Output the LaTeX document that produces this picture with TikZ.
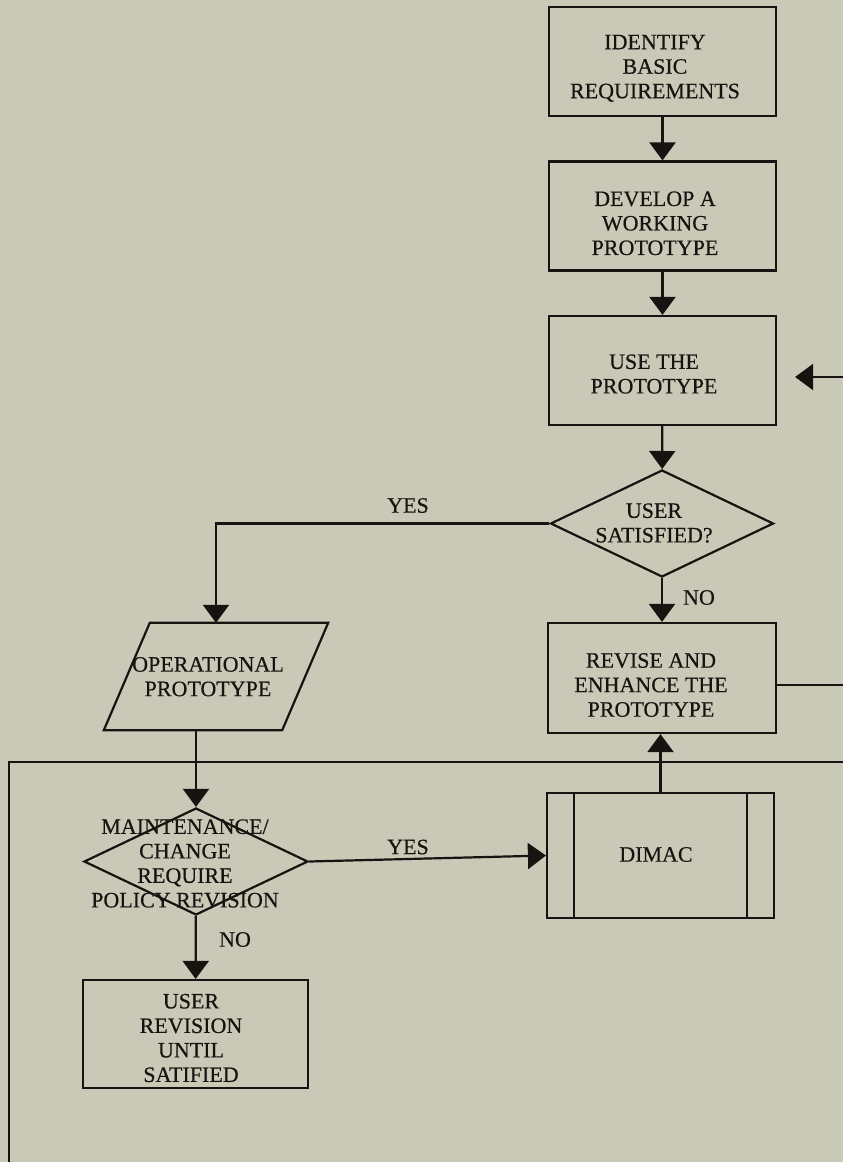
\documentclass[tikz,border=0pt]{standalone}
\usepackage{fontspec}
\setmainfont{Liberation Serif}
\newfontfamily\inkfont[FakeBold=0.4]{Liberation Serif}
\usetikzlibrary{arrows.meta,shapes.geometric,calc}
\definecolor{paper}{RGB}{201,201,184}
\definecolor{ink}{RGB}{24,19,16}
\begin{document}
\begin{tikzpicture}[x=1pt,y=-1pt,
  line/.style={draw=ink, line width=2.2pt},
  flow/.style={line, -{Triangle[length=18pt,width=26pt]}},
  stepbox/.style={draw=ink, line width=2.2pt, rectangle, minimum width=227pt,
    minimum height=109pt, inner sep=0pt},
  decision/.style={draw=ink, line width=2.2pt, diamond, minimum width=223pt,
    minimum height=107pt, inner sep=0pt},
  io/.style={rectangle, minimum width=224pt, minimum height=107pt, inner sep=0pt},
  txt/.style={text=ink, align=center, inner sep=0pt,
    font=\inkfont\fontsize{22}{24.5}\selectfont},
]
% page
\useasboundingbox (0,0) rectangle (843,1162);
\fill[paper] (0,0) rectangle (843,1162);

\begin{scope}
\clip (0,0) rectangle (843,1162);

% main loop shapes
\node[stepbox] (id)  at (662.5,61.5) {};
\node[stepbox] (dev) at (662.5,216) {};
\node[stepbox] (use) at (662.5,370.5) {};
\node[decision] (sat) at (662,523.5) {};
\node[stepbox, minimum width=228pt, minimum height=110pt] (rev) at (662,678) {};

% operational branch
\node[io] (op) at (216,676.5) {};
\draw[line] ($(op.north west)+(46,0)$) -- (op.north east)
  -- ($(op.south east)+(-46,0)$) -- (op.south west) -- cycle;
\node[decision, minimum width=224pt] (maint) at (196,861.5) {};
\node[stepbox, minimum width=225pt, minimum height=108pt] (urev) at (195.5,1034) {};
\node[stepbox, minimum height=125pt] (dimac) at (660.5,855.5) {};
\draw[line] ($(dimac.north west)+(28,0)$) -- ($(dimac.south west)+(28,0)$);
\draw[line] ($(dimac.north east)+(-28,0)$) -- ($(dimac.south east)+(-28,0)$);

% texts
\node[txt] (id-t)  at (655,68.3) {IDENTIFY\\BASIC\\REQUIREMENTS};
\node[txt] (dev-t) at (655,223.3) {DEVELOP A\\WORKING\\PROTOTYPE};
\node[txt] (use-t) at (654,374) {USE THE\\PROTOTYPE};
\node[txt] (sat-t) at (654,523) {USER\\SATISFIED?};
\node[txt] (rev-t) at (651,685) {REVISE AND\\ENHANCE THE\\PROTOTYPE};
\node[txt] (op-t)  at (208,676.7) {OPERATIONAL\\PROTOTYPE};
\node[txt] (maint-t) at (185,863.5) {MAINTENANCE/\\CHANGE\\REQUIRE\\POLICY REVISION};
\node[txt] (dimac-t) at (656,854.5) {DIMAC};
\node[txt] (urev-t) at (191,1038) {USER\\REVISION\\UNTIL\\SATIFIED};

% connectors
\draw[flow] (id) -- (dev);
\draw[flow] (dev) -- (use);
\draw[flow] (use) -- (sat);
\draw[flow] (sat) -- (rev);
\draw[flow] (sat.west) -| (op.north);
\draw[flow] (op.south -| maint.north) -- (maint.north);
\draw[flow] (maint) -- (urev);
\draw[flow] (maint.east) -- (dimac.west);
\draw[flow] (dimac.north) -- (dimac.north |- rev.south);
\draw[flow, shorten >=18pt] ($(rev.east)+(0,7)$) -- (880,685) -- (880,377)
  -- ($(use.east)+(0,6.5)$);

% branch labels
\node[txt] (yes1) at (408,505.5) {YES};
\node[txt] (no1)  at (699,597.5) {NO};
\node[txt] (yes2) at (408,847) {YES};
\node[txt] (no2)  at (235,939.5) {NO};

% boundary of the lower section
\draw[line] (900,762) -- (9,762) -- (9,1200);
\end{scope}
\end{tikzpicture}
\end{document}
